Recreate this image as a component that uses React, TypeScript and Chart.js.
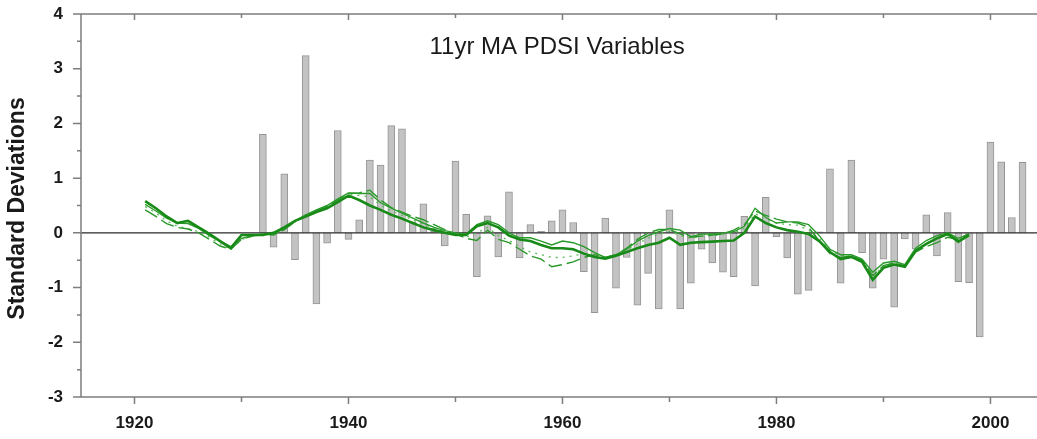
import React, { useEffect, useRef } from "react";
import { Chart, registerables } from "chart.js";

Chart.register(...registerables);

// ---- DATA ----
const titleText = "11yr MA PDSI Variables";
const yAxisLabel = "Standard Deviations";

const xMin = 1915;
const xMax = 2004.35;
const xMajorYears = [1920, 1940, 1960, 1980, 2000];
const xMinorYears = [1930, 1950, 1970, 1990];
const yMajorTicks = [-3, -2, -1, 0, 1, 2, 3, 4];
const yMinorTicks = [-2.5, -1.5, -0.5, 0.5, 1.5, 2.5, 3.5];

// annual standardized values (bars), 1932..2003
const barStartYear = 1932;
const barValues = [
  1.8, -0.26, 1.08, -0.49, 3.24, -1.3, -0.19, 1.87, -0.12, 0.24,
  1.33, 1.24, 1.96, 1.9, 0.2, 0.53, 0.03, -0.24, 1.31, 0.34,
  -0.8, 0.31, -0.44, 0.75, -0.46, 0.15, 0.03, 0.22, 0.42, 0.19,
  -0.71, -1.46, 0.27, -1.01, -0.45, -1.32, -0.74, -1.39, 0.42, -1.39,
  -0.92, -0.3, -0.55, -0.72, -0.8, 0.3, -0.97, 0.65, -0.07, -0.46,
  -1.12, -1.05, 0.02, 1.17, -0.92, 1.33, -0.36, -1.01, -0.48, -1.36,
  -0.11, -0.3, 0.33, -0.42, 0.37, -0.89, -0.91, -1.9, 1.66, 1.3,
  0.28, 1.29,
];

// 11-yr moving averages, 1921..1998
const lineStartYear = 1921;
const maThick = [
  0.58, 0.45, 0.3, 0.18, 0.22, 0.1, -0.02, -0.15, -0.28, -0.04,
  -0.04, -0.04, 0.0, 0.1, 0.22, 0.3, 0.38, 0.45, 0.56, 0.68,
  0.6, 0.5, 0.42, 0.33, 0.26, 0.18, 0.1, 0.05, 0.0, -0.04,
  -0.04, 0.12, 0.18, 0.1, -0.05, -0.12, -0.15, -0.22, -0.28, -0.28,
  -0.3, -0.38, -0.44, -0.47, -0.42, -0.35, -0.28, -0.22, -0.18, -0.09,
  -0.22, -0.18, -0.17, -0.16, -0.15, -0.14, 0.0, 0.3, 0.18, 0.1,
  0.05, 0.02, -0.02, -0.15, -0.35, -0.48, -0.44, -0.53, -0.86, -0.64,
  -0.58, -0.62, -0.33, -0.2, -0.1, -0.02, -0.16, -0.04,
];
const maThin = [
  0.52, 0.4, 0.27, 0.18, 0.17, 0.08, -0.05, -0.15, -0.25, -0.1,
  -0.05, -0.02, -0.02, 0.08, 0.22, 0.33, 0.42, 0.5, 0.62, 0.73,
  0.72, 0.72, 0.55, 0.45, 0.36, 0.27, 0.18, 0.1, 0.04, 0.0,
  -0.02, 0.15, 0.22, 0.15, 0.0, -0.09, -0.09, -0.15, -0.22, -0.15,
  -0.18, -0.25, -0.36, -0.45, -0.4, -0.3, -0.15, -0.05, 0.02, 0.08,
  0.05, -0.07, -0.02, -0.02, 0.0, 0.02, 0.12, 0.45, 0.28, 0.18,
  0.2, 0.2, 0.15, -0.05, -0.3, -0.4, -0.4, -0.48, -0.72, -0.55,
  -0.52, -0.58, -0.28, -0.14, -0.05, 0.0, -0.1, -0.02,
];
const maDashed = [
  0.42, 0.3, 0.17, 0.1, 0.07, 0.0, -0.12, -0.24, -0.3, -0.12,
  -0.06, -0.02, -0.04, 0.06, 0.2, 0.32, 0.4, 0.48, 0.6, 0.72,
  0.73, 0.78, 0.6, 0.46, 0.38, 0.3, 0.24, 0.15, 0.06, -0.02,
  -0.1, -0.14, 0.05, -0.12, -0.18, -0.3, -0.42, -0.48, -0.62, -0.58,
  -0.53, -0.45, -0.4, -0.45, -0.4, -0.28, -0.12, 0.0, 0.06, 0.06,
  -0.02, -0.08, -0.06, -0.04, -0.02, 0.05, 0.15, 0.4, 0.32, 0.25,
  0.2, 0.18, 0.1, -0.15, -0.38, -0.45, -0.42, -0.5, -0.78, -0.6,
  -0.55, -0.6, -0.35, -0.25, -0.18, -0.08, -0.12, -0.02,
];
const maDotted = [
  0.48, 0.36, 0.22, 0.12, 0.08, 0.02, -0.08, -0.2, -0.3, -0.12,
  -0.06, -0.03, -0.04, 0.08, 0.2, 0.3, 0.4, 0.47, 0.58, 0.7,
  0.68, 0.66, 0.5, 0.4, 0.32, 0.24, 0.16, 0.08, 0.02, -0.03,
  -0.08, 0.0, 0.1, -0.05, -0.14, -0.25, -0.35, -0.4, -0.45, -0.45,
  -0.42, -0.38, -0.4, -0.45, -0.42, -0.32, -0.2, -0.1, -0.02, 0.03,
  -0.05, -0.1, -0.06, -0.05, -0.03, 0.0, 0.08, 0.35, 0.25, 0.18,
  0.15, 0.14, 0.05, -0.1, -0.32, -0.42, -0.4, -0.5, -0.8, -0.6,
  -0.55, -0.6, -0.3, -0.2, -0.1, -0.04, -0.12, -0.03,
];

const toPoints = (start: number, vals: number[]) =>
  vals.map((v, i) => ({ x: start + i, y: v }));

const FONT = '"Liberation Sans", Arial, Helvetica, sans-serif';
const FRAME = "#7d7d7d";

const framePlugin = {
  id: "framePlugin",
  afterDatasetDraw(chart: any, args: any) {
    if (args.meta.type !== "bar") return;
    const { ctx, chartArea } = chart;
    const y = chart.scales.y;
    ctx.save();
    ctx.strokeStyle = "#2a2a2a";
    ctx.lineWidth = 1.2;
    ctx.beginPath();
    ctx.moveTo(chartArea.left, y.getPixelForValue(0));
    ctx.lineTo(chartArea.right, y.getPixelForValue(0));
    ctx.stroke();
    ctx.restore();
  },
  afterDraw(chart: any) {
    const { ctx, chartArea } = chart;
    const { left, right, top, bottom } = chartArea;
    const xs = chart.scales.x;
    const ys = chart.scales.y;
    ctx.save();
    ctx.strokeStyle = FRAME;
    ctx.lineWidth = 1.5;
    ctx.beginPath();
    ctx.moveTo(left, top);
    ctx.lineTo(right, top);
    ctx.moveTo(left, bottom);
    ctx.lineTo(right, bottom);
    ctx.moveTo(left, top);
    ctx.lineTo(left, bottom);
    yMajorTicks.forEach((v) => {
      const p = ys.getPixelForValue(v);
      ctx.moveTo(left - 8, p);
      ctx.lineTo(left, p);
    });
    yMinorTicks.forEach((v) => {
      const p = ys.getPixelForValue(v);
      ctx.moveTo(left - 4, p);
      ctx.lineTo(left, p);
    });
    xMajorYears.forEach((v) => {
      const p = xs.getPixelForValue(v);
      ctx.moveTo(p, bottom);
      ctx.lineTo(p, bottom + 7);
      ctx.moveTo(p, top);
      ctx.lineTo(p, top + 6);
    });
    xMinorYears.forEach((v) => {
      const p = xs.getPixelForValue(v);
      ctx.moveTo(p, bottom);
      ctx.lineTo(p, bottom + 5);
      ctx.moveTo(p, top);
      ctx.lineTo(p, top + 4);
    });
    ctx.stroke();

    ctx.fillStyle = "#1a1a1a";
    ctx.font = `24px ${FONT}`;
    ctx.textAlign = "center";
    ctx.textBaseline = "middle";
    ctx.fillText(titleText, xs.getPixelForValue(1959.5), top + 33);

    ctx.font = `bold 23px ${FONT}`;
    ctx.translate(18, (top + bottom) / 2 + 3);
    ctx.rotate(-Math.PI / 2);
    ctx.fillText(yAxisLabel, 0, 0);
    ctx.restore();
  },
};

export default function App() {
  const ref = useRef<HTMLCanvasElement>(null);
  useEffect(() => {
    if (!ref.current) return;
    const lineBase = {
      type: "line" as const,
      pointRadius: 0,
      tension: 0,
      fill: false,
    };
    const chart = new Chart(ref.current, {
      type: "bar",
      data: {
        datasets: [
          {
            ...lineBase,
            label: "MA 1",
            data: toPoints(lineStartYear, maThick),
            borderColor: "#178a17",
            borderWidth: 2.6,
            order: 0,
          },
          {
            ...lineBase,
            label: "MA 2",
            data: toPoints(lineStartYear, maThin),
            borderColor: "#2a9a2a",
            borderWidth: 1.4,
            order: 1,
          },
          {
            ...lineBase,
            label: "MA 3",
            data: toPoints(lineStartYear, maDashed),
            borderColor: "#2a982a",
            borderWidth: 1.4,
            borderDash: [14, 5],
            order: 2,
          },
          {
            ...lineBase,
            label: "MA 4",
            data: toPoints(lineStartYear, maDotted),
            borderColor: "#5cb85c",
            borderWidth: 1.3,
            borderDash: [2, 5],
            order: 3,
          },
          {
            type: "bar",
            label: "Annual",
            data: toPoints(barStartYear, barValues),
            backgroundColor: "#c3c3c3",
            borderColor: "#959595",
            borderWidth: 1,
            barThickness: 7,
            order: 10,
          } as any,
        ],
      },
      options: {
        responsive: false,
        animation: false,
        events: [],
        layout: { padding: { top: 14, right: 0, left: 0, bottom: 0 } },
        plugins: {
          legend: { display: false },
          tooltip: { enabled: false },
        },
        scales: {
          x: {
            type: "linear",
            min: xMin,
            max: xMax,
            offset: false,
            grid: { display: false, drawTicks: false },
            border: { display: false },
            afterBuildTicks: (s: any) => {
              s.ticks = xMajorYears.map((v) => ({ value: v }));
            },
            afterFit: (s: any) => {
              s.height = 42;
              s.paddingLeft = 0;
              s.paddingRight = 0;
            },
            ticks: {
              autoSkip: false,
              maxRotation: 0,
              padding: 16,
              color: "#1a1a1a",
              font: { family: FONT, size: 17, weight: "bold" },
              callback: (v: any) => String(v),
            },
          },
          y: {
            type: "linear",
            min: -3,
            max: 4,
            grid: { display: false, drawTicks: false },
            border: { display: false },
            afterBuildTicks: (s: any) => {
              s.ticks = yMajorTicks.map((v) => ({ value: v }));
            },
            afterFit: (s: any) => {
              s.width = 81;
              s.paddingTop = 0;
              s.paddingBottom = 0;
            },
            ticks: {
              padding: 18,
              color: "#1a1a1a",
              font: { family: FONT, size: 17, weight: "bold" },
              callback: (v: any) => String(v),
            },
          },
        },
      } as any,
      plugins: [framePlugin],
    });
    return () => chart.destroy();
  }, []);
  return (
    <div style={{ position: "absolute", left: 0, top: 0, width: 1037, height: 439, background: "#fff" }}>
      <canvas ref={ref} width={1037} height={439} style={{ display: "block" }} />
    </div>
  );
}
